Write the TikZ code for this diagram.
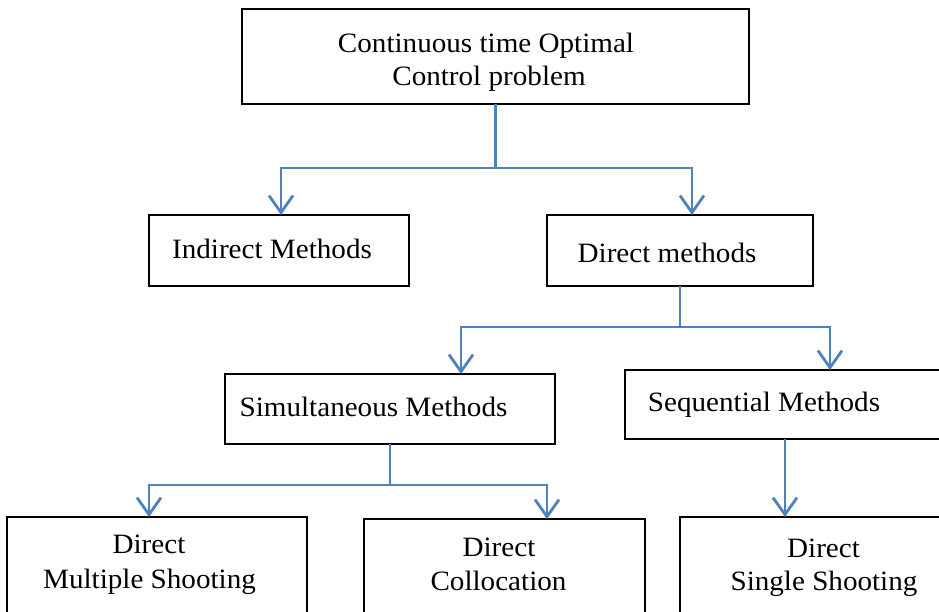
\documentclass[tikz,border=0pt]{standalone}
\usepackage{fontspec}
\setmainfont[FakeStretch=1.04]{Liberation Serif}
\usetikzlibrary{arrows.meta}
\definecolor{flowblue}{RGB}{79,129,189}
\tikzset{
  stepbox/.style={draw=black, line width=2.2pt, inner sep=0pt, outer sep=0pt},
  conn/.style={draw=flowblue, line width=2.8pt},
  arr/.style={-{Straight Barb[length=17pt,width=24pt,line width=2.8pt]}},
  lbl/.style={anchor=base, inner sep=0pt, font=\fontsize{28pt}{35pt}\selectfont}
}
\begin{document}
\begin{tikzpicture}[x=1pt,y=-1pt]
  \useasboundingbox (0,0) rectangle (939,611);
  \clip (0,0) rectangle (939,611);

  % boxes
  \node[stepbox, minimum width=507pt, minimum height=95pt] (top) at (495.5,56.5) {};
  \node[stepbox, minimum width=260pt, minimum height=71pt] (ind) at (279,250.5) {};
  \node[stepbox, minimum width=266pt, minimum height=71pt] (dir) at (680,250.5) {};
  \node[stepbox, minimum width=330pt, minimum height=70pt] (sim) at (390,409) {};
  \node[stepbox, minimum width=320pt, minimum height=69pt] (seq) at (785,404.5) {};
  \node[stepbox, minimum width=300pt, minimum height=123pt] (mul) at (157,578.5) {};
  \node[stepbox, minimum width=281pt, minimum height=121pt] (col) at (504.5,579.5) {};
  \node[stepbox, minimum width=280pt, minimum height=123pt] (sin) at (820,578.5) {};

  % labels
  \node[lbl] (topa) at (486,52) {Continuous time Optimal};
  \node[lbl] (topb) at (489,85) {Control problem};
  \node[lbl] (indl) at (272,258) {Indirect Methods};
  \node[lbl] (dirl) at (667,262) {Direct methods};
  \node[lbl] (siml) at (373.5,416) {Simultaneous Methods};
  \node[lbl] (seql) at (764,411) {Sequential Methods};
  \node[lbl] (mula) at (149,553) {Direct};
  \node[lbl] (mulb) at (149.5,588) {Multiple Shooting};
  \node[lbl] (cola) at (499,556) {Direct};
  \node[lbl] (colb) at (498.5,590) {Collocation};
  \node[lbl] (sina) at (823.5,557) {Direct};
  \node[lbl] (sinb) at (824,590) {Single Shooting};

  % branch points
  \coordinate (b1l) at (281,168);
  \coordinate (b1r) at (692,168);
  \coordinate (b2l) at (461,327);
  \coordinate (b2r) at (830,327);
  \coordinate (b3l) at (149,485);
  \coordinate (b3r) at (547,485);

  % connectors
  \draw[conn,arr] (top.south) |- (b1l) -- (ind.north -| b1l);
  \draw[conn,arr] (top.south) |- (b1r) -- (dir.north -| b1r);
  \draw[conn,arr] (dir.south) |- (b2l) -- (sim.north -| b2l);
  \draw[conn,arr] (dir.south) |- (b2r) -- (seq.north -| b2r);
  \draw[conn,arr] (sim.south) |- (b3l) -- (mul.north -| b3l);
  \draw[conn,arr] (sim.south) |- (b3r) -- (col.north -| b3r);
  \draw[conn,arr] (seq.south) -- (sin.north -| seq.south);
\end{tikzpicture}
\end{document}
